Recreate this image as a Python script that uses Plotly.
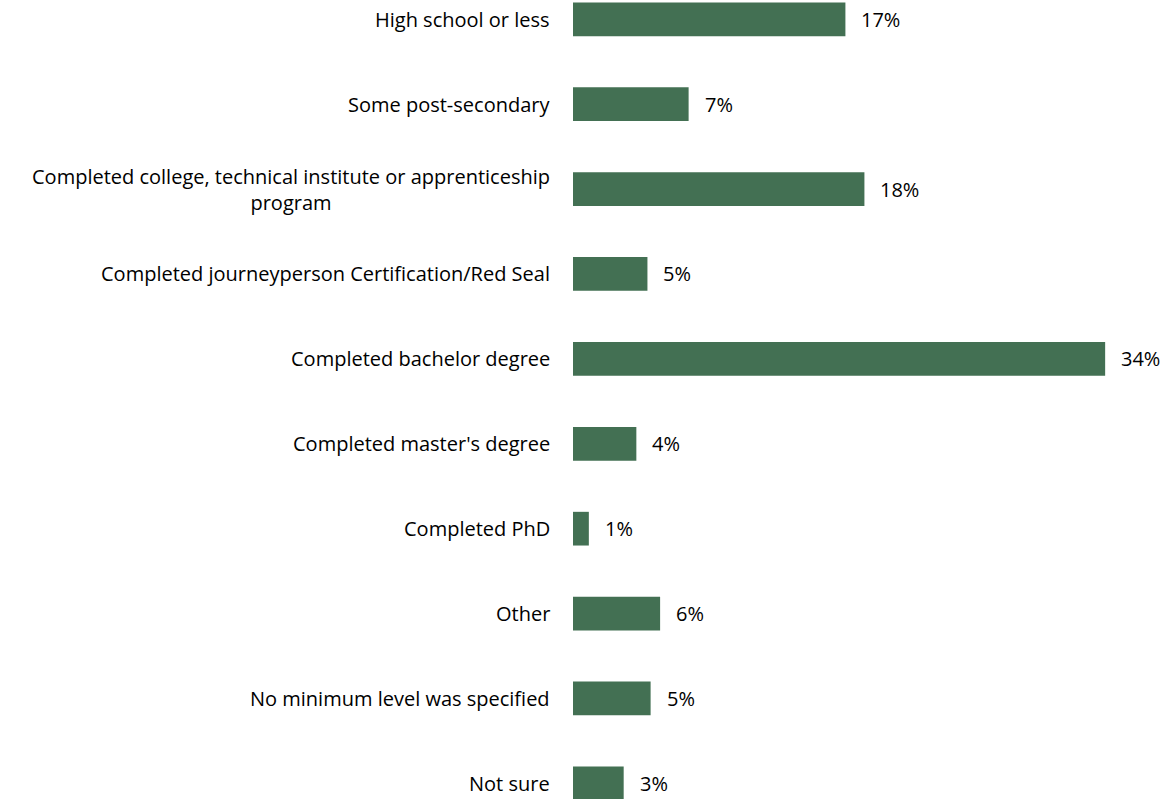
import plotly.graph_objects as go

# Minimum education level requested (share of responses, %)
categories = [
    "High school or less",
    "Some post-secondary",
    "Completed college, technical institute or apprenticeship<br>program",
    "Completed journeyperson Certification/Red Seal",
    "Completed bachelor degree",
    "Completed master's degree",
    "Completed PhD",
    "Other",
    "No minimum level was specified",
    "Not sure",
]
shares = [17.2, 7.3, 18.4, 4.7, 33.6, 4.0, 1.0, 5.5, 4.9, 3.2]

BAR_COLOR = "#437053"
FONT = "Open Sans"
FONT_SIZE = 20

fig = go.Figure(
    go.Bar(
        x=shares,
        y=list(range(len(categories))),
        orientation="h",
        marker=dict(color=BAR_COLOR, line=dict(width=0)),
        width=0.397,
        hoverinfo="skip",
    )
)

annotations = []
for i, (cat, v) in enumerate(zip(categories, shares)):
    # value label to the right of each bar
    annotations.append(dict(
        x=v, y=i, xref="x", yref="y", text=f"{v:.0f}%",
        showarrow=False, xanchor="left", yanchor="middle", xshift=14,
        font=dict(family=FONT, size=FONT_SIZE, color="#000000"),
    ))
    # category label, right-aligned against the bars
    annotations.append(dict(
        x=0, y=i, xref="paper", yref="y", text=cat,
        showarrow=False, xanchor="right", yanchor="middle", align="center",
        xshift=-21,
        font=dict(family=FONT, size=FONT_SIZE, color="#000000"),
    ))

fig.update_layout(
    width=1168,
    height=799,
    margin=dict(l=573, r=9, t=0, b=0),
    paper_bgcolor="white",
    plot_bgcolor="white",
    showlegend=False,
    annotations=annotations,
    xaxis=dict(range=[0, 37], visible=False, fixedrange=True),
    yaxis=dict(range=[9.184, -0.227], visible=False, fixedrange=True),
)

fig.write_html("out.html")
